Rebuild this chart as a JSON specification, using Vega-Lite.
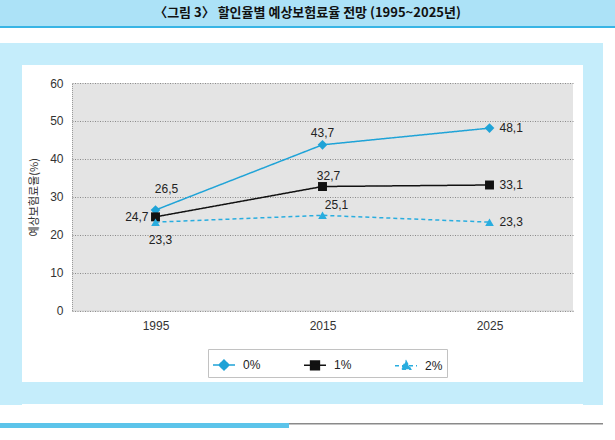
{
  "$schema": "https://vega.github.io/schema/vega-lite/v6.json",
  "padding": 0,
  "background": "white",
  "spacing": 0,
  "datasets": {
    "heading": [{"label": "〈그림 3〉 할인율별 예상보험료율 전망 (1995~2025년)"}],
    "rates": [
      {"year": "1995", "series": "0%", "rate": 26.5},
      {"year": "2015", "series": "0%", "rate": 43.7},
      {"year": "2025", "series": "0%", "rate": 48.1},
      {"year": "1995", "series": "1%", "rate": 24.7},
      {"year": "2015", "series": "1%", "rate": 32.7},
      {"year": "2025", "series": "1%", "rate": 33.1},
      {"year": "1995", "series": "2%", "rate": 23.3},
      {"year": "2015", "series": "2%", "rate": 25.1},
      {"year": "2025", "series": "2%", "rate": 23.3}
    ]
  },
  "vconcat": [
    {
      "width": 615, "height": 26,
      "view": {"fill": "#ace2f7", "stroke": null},
      "data": {"name": "heading"},
      "mark": {"type": "text", "font": "Noto Sans CJK KR", "fontSize": 13, "fontWeight": "bold", "color": "#111111"},
      "encoding": {"text": {"field": "label"}}
    },
    {
      "width": 615, "height": 2,
      "view": {"fill": "#38b5e5", "stroke": null},
      "data": {"values": []}, "mark": "rect", "encoding": {}
    },
    {
      "width": 615, "height": 15,
      "view": {"fill": null, "stroke": null},
      "data": {"values": []}, "mark": "rect", "encoding": {}
    },
    {
      "spacing": 0,
      "hconcat": [
        {
          "width": 22, "height": 362,
          "view": {"fill": "#c5edfb", "stroke": null},
          "data": {"values": []}, "mark": "rect", "encoding": {}
        },
        {
          "spacing": 0,
          "vconcat": [
            {
              "width": 561, "height": 22,
              "view": {"fill": "#c5edfb", "stroke": null},
              "data": {"values": []}, "mark": "rect", "encoding": {}
            },
            {
              "width": 561, "height": 11.5,
              "view": {"fill": null, "stroke": null},
              "data": {"values": []}, "mark": "rect", "encoding": {}
            },
            {
              "spacing": 0,
              "bounds": "flush",
              "hconcat": [
                {
                  "width": 50, "height": 227.5,
                  "view": {"fill": null, "stroke": null},
                  "data": {"values": []}, "mark": "rect", "encoding": {}
                },
                {
                  "width": 501, "height": 227.5,
                  "view": {"fill": "#e4e4e4", "stroke": null},
                  "data": {"name": "rates"},
                  "encoding": {
                    "x": {
                      "field": "year", "type": "ordinal",
                      "scale": {"type": "point", "padding": 0.5, "domain": ["1995", "2015", "2025"]},
                      "axis": {
                        "title": null, "labelAngle": 0, "labelFontSize": 12, "labelColor": "#333333",
                        "labelPadding": 10, "ticks": false, "domainColor": "#9a9a9a", "domainDash": [1, 1], "grid": false
                      }
                    },
                    "y": {
                      "field": "rate", "type": "quantitative",
                      "scale": {"domain": [0, 60], "nice": false},
                      "axis": {
                        "values": [0, 10, 20, 30, 40, 50, 60],
                        "title": "예상보험료율(%)", "titleFont": "Noto Sans CJK KR", "titleFontSize": 11,
                        "titleFontWeight": "normal", "titleColor": "#333333", "titlePadding": 10,
                        "labelFontSize": 12, "labelColor": "#333333", "labelPadding": 9,
                        "ticks": false, "domainColor": "#9a9a9a", "domainDash": [1, 1],
                        "grid": true, "gridColor": "#8a8a8a", "gridDash": [1, 1.5], "gridWidth": 1
                      }
                    },
                    "color": {
                      "field": "series", "type": "nominal",
                      "scale": {"domain": ["0%", "1%", "2%"], "range": ["#1fa3d7", "#111111", "#29addf"]},
                      "legend": {
                        "orient": "none", "legendX": 208, "legendY": 349, "direction": "horizontal",
                        "title": null, "fillColor": "white", "strokeColor": "#c2c2c2", "padding": 4,
                        "columnPadding": 40, "symbolSize": 484, "symbolStrokeWidth": 1.5,
                        "labelFontSize": 12, "labelColor": "#222222", "labelOffset": 7,
                        "encode": {
                          "symbols": {
                            "update": {
                              "shape": {"signal": "datum.value === '0%' ? 'M-1,0H1M0,-0.45L0.45,0L0,0.45L-0.45,0Z' : datum.value === '1%' ? 'M-1,0H1M-0.4,-0.4H0.4V0.4H-0.4Z' : 'M-1,0H1M0,-0.42L0.42,0.33H-0.42Z'"},
                              "strokeDash": {"signal": "datum.value === '2%' ? [3, 2] : [1, 0]"},
                              "fill": {"scale": "color", "field": "value"},
                              "stroke": {"scale": "color", "field": "value"},
                              "strokeWidth": {"value": 1.5},
                              "opacity": {"value": 1}
                            }
                          }
                        }
                      }
                    }
                  },
                  "layer": [
                    {
                      "mark": {"type": "line", "strokeWidth": 1.5},
                      "encoding": {
                        "strokeDash": {
                          "field": "series", "type": "nominal",
                          "scale": {"domain": ["0%", "1%", "2%"], "range": [[1, 0], [1, 0], [4, 3]]},
                          "legend": null
                        }
                      }
                    },
                    {
                      "transform": [{"filter": "datum.series === '0%'"}],
                      "mark": {"type": "point", "shape": "diamond", "filled": true, "opacity": 1, "size": 95}
                    },
                    {
                      "transform": [{"filter": "datum.series === '1%'"}],
                      "mark": {"type": "point", "shape": "square", "filled": true, "opacity": 1, "size": 80}
                    },
                    {
                      "transform": [{"filter": "datum.series === '2%'"}],
                      "mark": {"type": "point", "shape": "triangle-up", "filled": true, "opacity": 1, "size": 75}
                    },
                    {
                      "transform": [{"filter": "datum.year == 2025"}],
                      "mark": {"type": "text", "align": "left", "baseline": "middle", "dx": 10, "fontSize": 12},
                      "encoding": {"text": {"field": "rate", "type": "quantitative", "format": ".1f"}, "color": {"value": "#222222"}}
                    },
                    {
                      "transform": [{"filter": "datum.year == 2015 && datum.series === '0%'"}],
                      "mark": {"type": "text", "align": "center", "baseline": "middle", "dx": 0, "dy": -12, "fontSize": 12},
                      "encoding": {"text": {"field": "rate", "type": "quantitative", "format": ".1f"}, "color": {"value": "#222222"}}
                    },
                    {
                      "transform": [{"filter": "datum.year == 2015 && datum.series === '1%'"}],
                      "mark": {"type": "text", "align": "center", "baseline": "middle", "dx": 6, "dy": -11, "fontSize": 12},
                      "encoding": {"text": {"field": "rate", "type": "quantitative", "format": ".1f"}, "color": {"value": "#222222"}}
                    },
                    {
                      "transform": [{"filter": "datum.year == 2015 && datum.series === '2%'"}],
                      "mark": {"type": "text", "align": "center", "baseline": "middle", "dx": 14, "dy": -10, "fontSize": 12},
                      "encoding": {"text": {"field": "rate", "type": "quantitative", "format": ".1f"}, "color": {"value": "#222222"}}
                    },
                    {
                      "transform": [{"filter": "datum.year == 1995 && datum.series === '0%'"}],
                      "mark": {"type": "text", "align": "center", "baseline": "middle", "dx": 11, "dy": -21, "fontSize": 12},
                      "encoding": {"text": {"field": "rate", "type": "quantitative", "format": ".1f"}, "color": {"value": "#222222"}}
                    },
                    {
                      "transform": [{"filter": "datum.year == 1995 && datum.series === '1%'"}],
                      "mark": {"type": "text", "align": "right", "baseline": "middle", "dx": -7, "dy": 0, "fontSize": 12},
                      "encoding": {"text": {"field": "rate", "type": "quantitative", "format": ".1f"}, "color": {"value": "#222222"}}
                    },
                    {
                      "transform": [{"filter": "datum.year == 1995 && datum.series === '2%'"}],
                      "mark": {"type": "text", "align": "center", "baseline": "middle", "dx": 5, "dy": 18, "fontSize": 12},
                      "encoding": {"text": {"field": "rate", "type": "quantitative", "format": ".1f"}, "color": {"value": "#222222"}}
                    }
                  ]
                },
                {
                  "width": 10, "height": 227.5,
                  "view": {"fill": null, "stroke": null},
                  "data": {"values": []}, "mark": "rect", "encoding": {}
                }
              ]
            },
            {
              "width": 561, "height": 50,
              "view": {"fill": null, "stroke": null},
              "data": {"values": []}, "mark": "rect", "encoding": {}
            },
            {
              "width": 561, "height": 22,
              "view": {"fill": "#c5edfb", "stroke": null},
              "data": {"values": []}, "mark": "rect", "encoding": {}
            }
          ]
        },
        {
          "width": 20, "height": 362,
          "view": {"fill": "#c5edfb", "stroke": null},
          "data": {"values": []}, "mark": "rect", "encoding": {}
        }
      ]
    },
    {
      "width": 615, "height": 18,
      "view": {"fill": null, "stroke": null},
      "data": {"values": []}, "mark": "rect", "encoding": {}
    },
    {
      "spacing": 0,
      "bounds": "flush",
      "hconcat": [
        {
          "width": 289, "height": 5,
          "view": {"fill": "#5cc4ea", "stroke": null},
          "data": {"values": []}, "mark": "rect", "encoding": {}
        },
        {
          "width": 314, "height": 1.5,
          "view": {"fill": "#8a8a8a", "stroke": null},
          "data": {"values": []}, "mark": "rect", "encoding": {}
        }
      ]
    }
  ],
  "config": {
    "font": "Liberation Sans",
    "view": {"stroke": null},
    "locale": {"number": {"decimal": ",", "thousands": ".", "grouping": [3], "currency": ["", ""]}}
  }
}
